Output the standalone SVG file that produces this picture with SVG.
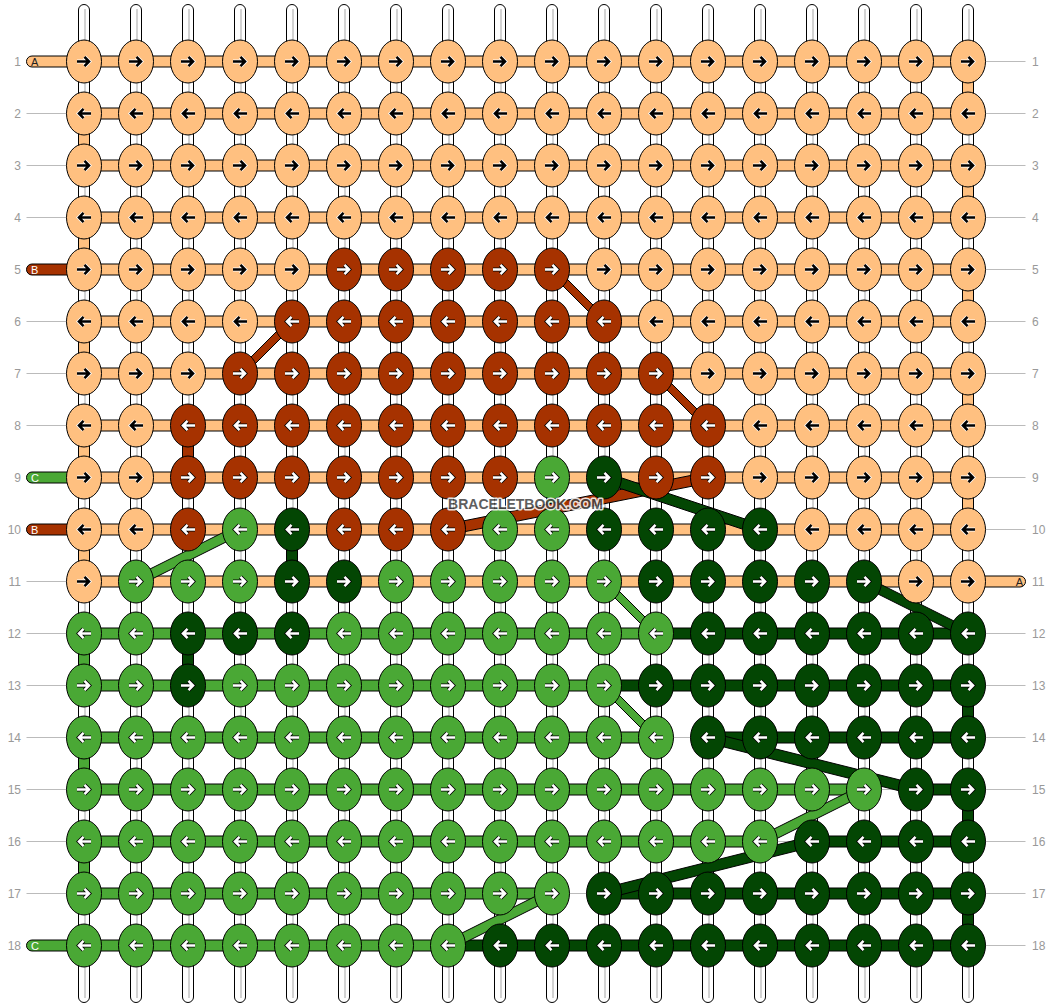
<svg xmlns="http://www.w3.org/2000/svg" xmlns:xlink="http://www.w3.org/1999/xlink" width="1052" height="1008" viewBox="0 0 1052 1008">
<style>
.p{fill:#ffc080}.b{fill:#a63200}.g{fill:#4aa835}.d{fill:#034603}
#connectors rect,#connectors polygon{stroke:#000;stroke-width:1}
.gl{stroke:#bbb;stroke-width:1}
#strings rect{fill:#fff;stroke:#000;stroke-width:1}
#strings line{stroke:#c4c4c4;stroke-width:1.5}
.lbl{font-family:"Liberation Sans",Arial,sans-serif;font-size:12px;fill:#999}
.pl{font-family:"Liberation Sans",Arial,sans-serif;font-size:11px}
</style>
<defs>
<ellipse id="E" rx="17.5" ry="21.5" stroke="#000" stroke-width="1"/>
<path id="R" d="M-7 0H4M0.5-4.6L5 0L0.5 4.6" fill="none"/>
<path id="L" d="M7 0H-4M-0.5-4.6L-5 0L-0.5 4.6" fill="none"/>
<g id="pR"><use href="#E" fill="#ffc080"/><use href="#R" stroke="#fff" stroke-width="4.2"/><use href="#R" stroke="#000" stroke-width="2.6"/></g>
<g id="pL"><use href="#E" fill="#ffc080"/><use href="#L" stroke="#fff" stroke-width="4.2"/><use href="#L" stroke="#000" stroke-width="2.6"/></g>
<g id="bR"><use href="#E" fill="#a63200"/><use href="#R" stroke="#000" stroke-width="4.2"/><use href="#R" stroke="#fff" stroke-width="2.6"/></g>
<g id="bL"><use href="#E" fill="#a63200"/><use href="#L" stroke="#000" stroke-width="4.2"/><use href="#L" stroke="#fff" stroke-width="2.6"/></g>
<g id="gR"><use href="#E" fill="#4aa835"/><use href="#R" stroke="#000" stroke-width="4.2"/><use href="#R" stroke="#fff" stroke-width="2.6"/></g>
<g id="gL"><use href="#E" fill="#4aa835"/><use href="#L" stroke="#000" stroke-width="4.2"/><use href="#L" stroke="#fff" stroke-width="2.6"/></g>
<g id="dR"><use href="#E" fill="#034603"/><use href="#R" stroke="#000" stroke-width="4.2"/><use href="#R" stroke="#fff" stroke-width="2.6"/></g>
<g id="dL"><use href="#E" fill="#034603"/><use href="#L" stroke="#000" stroke-width="4.2"/><use href="#L" stroke="#fff" stroke-width="2.6"/></g>
</defs>
<rect width="1052" height="1008" fill="#fff"/>
<g id="strings">
<rect x="78.5" y="4.5" width="11" height="998" rx="5.5"/><line x1="85" y1="9" x2="85" y2="998"/>
<rect x="130.5" y="4.5" width="11" height="998" rx="5.5"/><line x1="137" y1="9" x2="137" y2="998"/>
<rect x="182.5" y="4.5" width="11" height="998" rx="5.5"/><line x1="189" y1="9" x2="189" y2="998"/>
<rect x="234.5" y="4.5" width="11" height="998" rx="5.5"/><line x1="241" y1="9" x2="241" y2="998"/>
<rect x="286.5" y="4.5" width="11" height="998" rx="5.5"/><line x1="293" y1="9" x2="293" y2="998"/>
<rect x="338.5" y="4.5" width="11" height="998" rx="5.5"/><line x1="345" y1="9" x2="345" y2="998"/>
<rect x="390.5" y="4.5" width="11" height="998" rx="5.5"/><line x1="397" y1="9" x2="397" y2="998"/>
<rect x="442.5" y="4.5" width="11" height="998" rx="5.5"/><line x1="449" y1="9" x2="449" y2="998"/>
<rect x="494.5" y="4.5" width="11" height="998" rx="5.5"/><line x1="501" y1="9" x2="501" y2="998"/>
<rect x="546.5" y="4.5" width="11" height="998" rx="5.5"/><line x1="553" y1="9" x2="553" y2="998"/>
<rect x="598.5" y="4.5" width="11" height="998" rx="5.5"/><line x1="605" y1="9" x2="605" y2="998"/>
<rect x="650.5" y="4.5" width="11" height="998" rx="5.5"/><line x1="657" y1="9" x2="657" y2="998"/>
<rect x="702.5" y="4.5" width="11" height="998" rx="5.5"/><line x1="709" y1="9" x2="709" y2="998"/>
<rect x="754.5" y="4.5" width="11" height="998" rx="5.5"/><line x1="761" y1="9" x2="761" y2="998"/>
<rect x="806.5" y="4.5" width="11" height="998" rx="5.5"/><line x1="813" y1="9" x2="813" y2="998"/>
<rect x="858.5" y="4.5" width="11" height="998" rx="5.5"/><line x1="865" y1="9" x2="865" y2="998"/>
<rect x="910.5" y="4.5" width="11" height="998" rx="5.5"/><line x1="917" y1="9" x2="917" y2="998"/>
<rect x="962.5" y="4.5" width="11" height="998" rx="5.5"/><line x1="969" y1="9" x2="969" y2="998"/>
</g>
<g id="connectors">
<g id="edge-lines">
<line class="gl" x1="26.5" y1="113.5" x2="70" y2="113.5"/>
<line class="gl" x1="26.5" y1="165.5" x2="70" y2="165.5"/>
<line class="gl" x1="26.5" y1="217.5" x2="70" y2="217.5"/>
<line class="gl" x1="26.5" y1="321.5" x2="70" y2="321.5"/>
<line class="gl" x1="26.5" y1="373.5" x2="70" y2="373.5"/>
<line class="gl" x1="26.5" y1="425.5" x2="70" y2="425.5"/>
<line class="gl" x1="26.5" y1="581.5" x2="70" y2="581.5"/>
<line class="gl" x1="26.5" y1="633.5" x2="70" y2="633.5"/>
<line class="gl" x1="26.5" y1="685.5" x2="70" y2="685.5"/>
<line class="gl" x1="26.5" y1="737.5" x2="70" y2="737.5"/>
<line class="gl" x1="26.5" y1="789.5" x2="70" y2="789.5"/>
<line class="gl" x1="26.5" y1="841.5" x2="70" y2="841.5"/>
<line class="gl" x1="26.5" y1="893.5" x2="70" y2="893.5"/>
<line class="gl" x1="980" y1="61.5" x2="1025.5" y2="61.5"/>
<line class="gl" x1="980" y1="113.5" x2="1025.5" y2="113.5"/>
<line class="gl" x1="980" y1="165.5" x2="1025.5" y2="165.5"/>
<line class="gl" x1="980" y1="217.5" x2="1025.5" y2="217.5"/>
<line class="gl" x1="980" y1="269.5" x2="1025.5" y2="269.5"/>
<line class="gl" x1="980" y1="321.5" x2="1025.5" y2="321.5"/>
<line class="gl" x1="980" y1="373.5" x2="1025.5" y2="373.5"/>
<line class="gl" x1="980" y1="425.5" x2="1025.5" y2="425.5"/>
<line class="gl" x1="980" y1="477.5" x2="1025.5" y2="477.5"/>
<line class="gl" x1="980" y1="529.5" x2="1025.5" y2="529.5"/>
<line class="gl" x1="980" y1="633.5" x2="1025.5" y2="633.5"/>
<line class="gl" x1="980" y1="685.5" x2="1025.5" y2="685.5"/>
<line class="gl" x1="980" y1="737.5" x2="1025.5" y2="737.5"/>
<line class="gl" x1="980" y1="789.5" x2="1025.5" y2="789.5"/>
<line class="gl" x1="980" y1="841.5" x2="1025.5" y2="841.5"/>
<line class="gl" x1="980" y1="893.5" x2="1025.5" y2="893.5"/>
<line class="gl" x1="980" y1="945.5" x2="1025.5" y2="945.5"/>
<line class="gl" x1="656" y1="737.5" x2="708" y2="737.5"/>
<line class="gl" x1="864" y1="789.5" x2="916" y2="789.5"/>
<line class="gl" x1="760" y1="841.5" x2="812" y2="841.5"/>
<line class="gl" x1="552" y1="893.5" x2="604" y2="893.5"/>
</g>
<g id="pills">
<rect class="p" x="26.5" y="56" width="68" height="11" rx="5.5"/>
<rect class="b" x="26.5" y="264" width="68" height="11" rx="5.5"/>
<rect class="g" x="26.5" y="472" width="68" height="11" rx="5.5"/>
<rect class="b" x="26.5" y="524" width="68" height="11" rx="5.5"/>
<rect class="g" x="26.5" y="940" width="68" height="11" rx="5.5"/>
<rect class="p" x="957" y="576" width="68.5" height="11" rx="5.5"/>
</g>
<g id="bars">
<rect class="p" x="84" y="56" width="884" height="11"/>
<rect class="p" x="84" y="108" width="884" height="11"/>
<rect class="p" x="84" y="160" width="884" height="11"/>
<rect class="p" x="84" y="212" width="884" height="11"/>
<rect class="p" x="84" y="264" width="884" height="11"/>
<rect class="p" x="84" y="316" width="884" height="11"/>
<rect class="p" x="84" y="368" width="884" height="11"/>
<rect class="p" x="84" y="420" width="884" height="11"/>
<rect class="p" x="84" y="472" width="884" height="11"/>
<rect class="p" x="84" y="524" width="884" height="11"/>
<rect class="p" x="84" y="576" width="884" height="11"/>
<rect class="g" x="84" y="628" width="572" height="11"/>
<rect class="d" x="656" y="628" width="312" height="11"/>
<rect class="g" x="84" y="680" width="520" height="11"/>
<rect class="d" x="604" y="680" width="364" height="11"/>
<rect class="g" x="84" y="732" width="572" height="11"/>
<rect class="d" x="708" y="732" width="260" height="11"/>
<rect class="g" x="84" y="784" width="780" height="11"/>
<rect class="d" x="916" y="784" width="52" height="11"/>
<rect class="g" x="84" y="836" width="676" height="11"/>
<rect class="d" x="812" y="836" width="156" height="11"/>
<rect class="g" x="84" y="888" width="468" height="11"/>
<rect class="d" x="604" y="888" width="364" height="11"/>
<rect class="g" x="84" y="940" width="364" height="11"/>
<rect class="d" x="448" y="940" width="520" height="11"/>
</g>
<g id="verticals">
<rect class="p" x="78.5" y="113.5" width="11" height="52"/>
<rect class="p" x="78.5" y="217.5" width="11" height="52"/>
<rect class="p" x="78.5" y="321.5" width="11" height="52"/>
<rect class="p" x="78.5" y="425.5" width="11" height="52"/>
<rect class="p" x="78.5" y="529.5" width="11" height="52"/>
<rect class="p" x="962.5" y="61.5" width="11" height="52"/>
<rect class="p" x="962.5" y="165.5" width="11" height="52"/>
<rect class="p" x="962.5" y="269.5" width="11" height="52"/>
<rect class="p" x="962.5" y="373.5" width="11" height="52"/>
<rect class="p" x="962.5" y="477.5" width="11" height="52"/>
<rect class="b" x="182.5" y="425.5" width="11" height="52"/>
<rect class="g" x="546.5" y="477.5" width="11" height="52"/>
<rect class="g" x="78.5" y="633.5" width="11" height="52"/>
<rect class="g" x="78.5" y="737.5" width="11" height="52"/>
<rect class="g" x="78.5" y="841.5" width="11" height="52"/>
<rect class="d" x="286.5" y="529.5" width="11" height="52"/>
<rect class="d" x="182.5" y="633.5" width="11" height="52"/>
<rect class="d" x="962.5" y="685.5" width="11" height="52"/>
<rect class="d" x="962.5" y="789.5" width="11" height="52"/>
<rect class="d" x="962.5" y="893.5" width="11" height="52"/>
</g>
<g id="diagonals">
<polygon class="b" points="552,264 604,316 604,327 552,275"/>
<polygon class="b" points="292,316 240,368 240,379 292,327"/>
<polygon class="b" points="656,368 708,420 708,431 656,379"/>
<polygon class="b" points="708,472 448,524 448,535 708,483"/>
<polygon class="d" points="604,472 760,524 760,535 604,483"/>
<polygon class="g" points="240,524 136,576 136,587 240,535"/>
<polygon class="g" points="604,576 656,628 656,639 604,587"/>
<polygon class="d" points="864,576 968,628 968,639 864,587"/>
<polygon class="g" points="604,680 656,732 656,743 604,691"/>
<polygon class="d" points="708,732 916,784 916,795 708,743"/>
<polygon class="g" points="864,784 760,836 760,847 864,795"/>
<polygon class="d" points="812,836 604,888 604,899 812,847"/>
<polygon class="g" points="552,888 448,940 448,951 552,899"/>
</g>
</g>
<g id="pill-labels" class="pl">
<text x="31" y="66" fill="#222">A</text>
<text x="31" y="274" fill="#fff">B</text>
<text x="31" y="482" fill="#fff">C</text>
<text x="31" y="534" fill="#fff">B</text>
<text x="31" y="950" fill="#fff">C</text>
<text x="1023" y="586" fill="#222" text-anchor="end">A</text>
</g>
<g id="knots">
<g transform="translate(0 61.5)">
<g id="k1-1"><use href="#pR" x="84"/></g><g id="k1-2"><use href="#pR" x="136"/></g><g id="k1-3"><use href="#pR" x="188"/></g><g id="k1-4"><use href="#pR" x="240"/></g><g id="k1-5"><use href="#pR" x="292"/></g><g id="k1-6"><use href="#pR" x="344"/></g><g id="k1-7"><use href="#pR" x="396"/></g><g id="k1-8"><use href="#pR" x="448"/></g><g id="k1-9"><use href="#pR" x="500"/></g><g id="k1-10"><use href="#pR" x="552"/></g><g id="k1-11"><use href="#pR" x="604"/></g><g id="k1-12"><use href="#pR" x="656"/></g><g id="k1-13"><use href="#pR" x="708"/></g><g id="k1-14"><use href="#pR" x="760"/></g><g id="k1-15"><use href="#pR" x="812"/></g><g id="k1-16"><use href="#pR" x="864"/></g><g id="k1-17"><use href="#pR" x="916"/></g><g id="k1-18"><use href="#pR" x="968"/></g>
</g>
<g transform="translate(0 113.5)">
<g id="k2-1"><use href="#pL" x="84"/></g><g id="k2-2"><use href="#pL" x="136"/></g><g id="k2-3"><use href="#pL" x="188"/></g><g id="k2-4"><use href="#pL" x="240"/></g><g id="k2-5"><use href="#pL" x="292"/></g><g id="k2-6"><use href="#pL" x="344"/></g><g id="k2-7"><use href="#pL" x="396"/></g><g id="k2-8"><use href="#pL" x="448"/></g><g id="k2-9"><use href="#pL" x="500"/></g><g id="k2-10"><use href="#pL" x="552"/></g><g id="k2-11"><use href="#pL" x="604"/></g><g id="k2-12"><use href="#pL" x="656"/></g><g id="k2-13"><use href="#pL" x="708"/></g><g id="k2-14"><use href="#pL" x="760"/></g><g id="k2-15"><use href="#pL" x="812"/></g><g id="k2-16"><use href="#pL" x="864"/></g><g id="k2-17"><use href="#pL" x="916"/></g><g id="k2-18"><use href="#pL" x="968"/></g>
</g>
<g transform="translate(0 165.5)">
<g id="k3-1"><use href="#pR" x="84"/></g><g id="k3-2"><use href="#pR" x="136"/></g><g id="k3-3"><use href="#pR" x="188"/></g><g id="k3-4"><use href="#pR" x="240"/></g><g id="k3-5"><use href="#pR" x="292"/></g><g id="k3-6"><use href="#pR" x="344"/></g><g id="k3-7"><use href="#pR" x="396"/></g><g id="k3-8"><use href="#pR" x="448"/></g><g id="k3-9"><use href="#pR" x="500"/></g><g id="k3-10"><use href="#pR" x="552"/></g><g id="k3-11"><use href="#pR" x="604"/></g><g id="k3-12"><use href="#pR" x="656"/></g><g id="k3-13"><use href="#pR" x="708"/></g><g id="k3-14"><use href="#pR" x="760"/></g><g id="k3-15"><use href="#pR" x="812"/></g><g id="k3-16"><use href="#pR" x="864"/></g><g id="k3-17"><use href="#pR" x="916"/></g><g id="k3-18"><use href="#pR" x="968"/></g>
</g>
<g transform="translate(0 217.5)">
<g id="k4-1"><use href="#pL" x="84"/></g><g id="k4-2"><use href="#pL" x="136"/></g><g id="k4-3"><use href="#pL" x="188"/></g><g id="k4-4"><use href="#pL" x="240"/></g><g id="k4-5"><use href="#pL" x="292"/></g><g id="k4-6"><use href="#pL" x="344"/></g><g id="k4-7"><use href="#pL" x="396"/></g><g id="k4-8"><use href="#pL" x="448"/></g><g id="k4-9"><use href="#pL" x="500"/></g><g id="k4-10"><use href="#pL" x="552"/></g><g id="k4-11"><use href="#pL" x="604"/></g><g id="k4-12"><use href="#pL" x="656"/></g><g id="k4-13"><use href="#pL" x="708"/></g><g id="k4-14"><use href="#pL" x="760"/></g><g id="k4-15"><use href="#pL" x="812"/></g><g id="k4-16"><use href="#pL" x="864"/></g><g id="k4-17"><use href="#pL" x="916"/></g><g id="k4-18"><use href="#pL" x="968"/></g>
</g>
<g transform="translate(0 269.5)">
<g id="k5-1"><use href="#pR" x="84"/></g><g id="k5-2"><use href="#pR" x="136"/></g><g id="k5-3"><use href="#pR" x="188"/></g><g id="k5-4"><use href="#pR" x="240"/></g><g id="k5-5"><use href="#pR" x="292"/></g><g id="k5-6"><use href="#bR" x="344"/></g><g id="k5-7"><use href="#bR" x="396"/></g><g id="k5-8"><use href="#bR" x="448"/></g><g id="k5-9"><use href="#bR" x="500"/></g><g id="k5-10"><use href="#bR" x="552"/></g><g id="k5-11"><use href="#pR" x="604"/></g><g id="k5-12"><use href="#pR" x="656"/></g><g id="k5-13"><use href="#pR" x="708"/></g><g id="k5-14"><use href="#pR" x="760"/></g><g id="k5-15"><use href="#pR" x="812"/></g><g id="k5-16"><use href="#pR" x="864"/></g><g id="k5-17"><use href="#pR" x="916"/></g><g id="k5-18"><use href="#pR" x="968"/></g>
</g>
<g transform="translate(0 321.5)">
<g id="k6-1"><use href="#pL" x="84"/></g><g id="k6-2"><use href="#pL" x="136"/></g><g id="k6-3"><use href="#pL" x="188"/></g><g id="k6-4"><use href="#pL" x="240"/></g><g id="k6-5"><use href="#bL" x="292"/></g><g id="k6-6"><use href="#bL" x="344"/></g><g id="k6-7"><use href="#bL" x="396"/></g><g id="k6-8"><use href="#bL" x="448"/></g><g id="k6-9"><use href="#bL" x="500"/></g><g id="k6-10"><use href="#bL" x="552"/></g><g id="k6-11"><use href="#bL" x="604"/></g><g id="k6-12"><use href="#pL" x="656"/></g><g id="k6-13"><use href="#pL" x="708"/></g><g id="k6-14"><use href="#pL" x="760"/></g><g id="k6-15"><use href="#pL" x="812"/></g><g id="k6-16"><use href="#pL" x="864"/></g><g id="k6-17"><use href="#pL" x="916"/></g><g id="k6-18"><use href="#pL" x="968"/></g>
</g>
<g transform="translate(0 373.5)">
<g id="k7-1"><use href="#pR" x="84"/></g><g id="k7-2"><use href="#pR" x="136"/></g><g id="k7-3"><use href="#pR" x="188"/></g><g id="k7-4"><use href="#bR" x="240"/></g><g id="k7-5"><use href="#bR" x="292"/></g><g id="k7-6"><use href="#bR" x="344"/></g><g id="k7-7"><use href="#bR" x="396"/></g><g id="k7-8"><use href="#bR" x="448"/></g><g id="k7-9"><use href="#bR" x="500"/></g><g id="k7-10"><use href="#bR" x="552"/></g><g id="k7-11"><use href="#bR" x="604"/></g><g id="k7-12"><use href="#bR" x="656"/></g><g id="k7-13"><use href="#pR" x="708"/></g><g id="k7-14"><use href="#pR" x="760"/></g><g id="k7-15"><use href="#pR" x="812"/></g><g id="k7-16"><use href="#pR" x="864"/></g><g id="k7-17"><use href="#pR" x="916"/></g><g id="k7-18"><use href="#pR" x="968"/></g>
</g>
<g transform="translate(0 425.5)">
<g id="k8-1"><use href="#pL" x="84"/></g><g id="k8-2"><use href="#pL" x="136"/></g><g id="k8-3"><use href="#bL" x="188"/></g><g id="k8-4"><use href="#bL" x="240"/></g><g id="k8-5"><use href="#bL" x="292"/></g><g id="k8-6"><use href="#bL" x="344"/></g><g id="k8-7"><use href="#bL" x="396"/></g><g id="k8-8"><use href="#bL" x="448"/></g><g id="k8-9"><use href="#bL" x="500"/></g><g id="k8-10"><use href="#bL" x="552"/></g><g id="k8-11"><use href="#bL" x="604"/></g><g id="k8-12"><use href="#bL" x="656"/></g><g id="k8-13"><use href="#bL" x="708"/></g><g id="k8-14"><use href="#pL" x="760"/></g><g id="k8-15"><use href="#pL" x="812"/></g><g id="k8-16"><use href="#pL" x="864"/></g><g id="k8-17"><use href="#pL" x="916"/></g><g id="k8-18"><use href="#pL" x="968"/></g>
</g>
<g transform="translate(0 477.5)">
<g id="k9-1"><use href="#pR" x="84"/></g><g id="k9-2"><use href="#pR" x="136"/></g><g id="k9-3"><use href="#bR" x="188"/></g><g id="k9-4"><use href="#bR" x="240"/></g><g id="k9-5"><use href="#bR" x="292"/></g><g id="k9-6"><use href="#bR" x="344"/></g><g id="k9-7"><use href="#bR" x="396"/></g><g id="k9-8"><use href="#bR" x="448"/></g><g id="k9-9"><use href="#bR" x="500"/></g><g id="k9-10"><use href="#gR" x="552"/></g><g id="k9-11"><use href="#dR" x="604"/></g><g id="k9-12"><use href="#bR" x="656"/></g><g id="k9-13"><use href="#bR" x="708"/></g><g id="k9-14"><use href="#pR" x="760"/></g><g id="k9-15"><use href="#pR" x="812"/></g><g id="k9-16"><use href="#pR" x="864"/></g><g id="k9-17"><use href="#pR" x="916"/></g><g id="k9-18"><use href="#pR" x="968"/></g>
</g>
<g transform="translate(0 529.5)">
<g id="k10-1"><use href="#pL" x="84"/></g><g id="k10-2"><use href="#pL" x="136"/></g><g id="k10-3"><use href="#bL" x="188"/></g><g id="k10-4"><use href="#gL" x="240"/></g><g id="k10-5"><use href="#dL" x="292"/></g><g id="k10-6"><use href="#bL" x="344"/></g><g id="k10-7"><use href="#bL" x="396"/></g><g id="k10-8"><use href="#bL" x="448"/></g><g id="k10-9"><use href="#gL" x="500"/></g><g id="k10-10"><use href="#gL" x="552"/></g><g id="k10-11"><use href="#dL" x="604"/></g><g id="k10-12"><use href="#dL" x="656"/></g><g id="k10-13"><use href="#dL" x="708"/></g><g id="k10-14"><use href="#dL" x="760"/></g><g id="k10-15"><use href="#pL" x="812"/></g><g id="k10-16"><use href="#pL" x="864"/></g><g id="k10-17"><use href="#pL" x="916"/></g><g id="k10-18"><use href="#pL" x="968"/></g>
</g>
<g transform="translate(0 581.5)">
<g id="k11-1"><use href="#pR" x="84"/></g><g id="k11-2"><use href="#gR" x="136"/></g><g id="k11-3"><use href="#gR" x="188"/></g><g id="k11-4"><use href="#gR" x="240"/></g><g id="k11-5"><use href="#dR" x="292"/></g><g id="k11-6"><use href="#dR" x="344"/></g><g id="k11-7"><use href="#gR" x="396"/></g><g id="k11-8"><use href="#gR" x="448"/></g><g id="k11-9"><use href="#gR" x="500"/></g><g id="k11-10"><use href="#gR" x="552"/></g><g id="k11-11"><use href="#gR" x="604"/></g><g id="k11-12"><use href="#dR" x="656"/></g><g id="k11-13"><use href="#dR" x="708"/></g><g id="k11-14"><use href="#dR" x="760"/></g><g id="k11-15"><use href="#dR" x="812"/></g><g id="k11-16"><use href="#dR" x="864"/></g><g id="k11-17"><use href="#pR" x="916"/></g><g id="k11-18"><use href="#pR" x="968"/></g>
</g>
<g transform="translate(0 633.5)">
<g id="k12-1"><use href="#gL" x="84"/></g><g id="k12-2"><use href="#gL" x="136"/></g><g id="k12-3"><use href="#dL" x="188"/></g><g id="k12-4"><use href="#dL" x="240"/></g><g id="k12-5"><use href="#dL" x="292"/></g><g id="k12-6"><use href="#gL" x="344"/></g><g id="k12-7"><use href="#gL" x="396"/></g><g id="k12-8"><use href="#gL" x="448"/></g><g id="k12-9"><use href="#gL" x="500"/></g><g id="k12-10"><use href="#gL" x="552"/></g><g id="k12-11"><use href="#gL" x="604"/></g><g id="k12-12"><use href="#gL" x="656"/></g><g id="k12-13"><use href="#dL" x="708"/></g><g id="k12-14"><use href="#dL" x="760"/></g><g id="k12-15"><use href="#dL" x="812"/></g><g id="k12-16"><use href="#dL" x="864"/></g><g id="k12-17"><use href="#dL" x="916"/></g><g id="k12-18"><use href="#dL" x="968"/></g>
</g>
<g transform="translate(0 685.5)">
<g id="k13-1"><use href="#gR" x="84"/></g><g id="k13-2"><use href="#gR" x="136"/></g><g id="k13-3"><use href="#dR" x="188"/></g><g id="k13-4"><use href="#gR" x="240"/></g><g id="k13-5"><use href="#gR" x="292"/></g><g id="k13-6"><use href="#gR" x="344"/></g><g id="k13-7"><use href="#gR" x="396"/></g><g id="k13-8"><use href="#gR" x="448"/></g><g id="k13-9"><use href="#gR" x="500"/></g><g id="k13-10"><use href="#gR" x="552"/></g><g id="k13-11"><use href="#gR" x="604"/></g><g id="k13-12"><use href="#dR" x="656"/></g><g id="k13-13"><use href="#dR" x="708"/></g><g id="k13-14"><use href="#dR" x="760"/></g><g id="k13-15"><use href="#dR" x="812"/></g><g id="k13-16"><use href="#dR" x="864"/></g><g id="k13-17"><use href="#dR" x="916"/></g><g id="k13-18"><use href="#dR" x="968"/></g>
</g>
<g transform="translate(0 737.5)">
<g id="k14-1"><use href="#gL" x="84"/></g><g id="k14-2"><use href="#gL" x="136"/></g><g id="k14-3"><use href="#gL" x="188"/></g><g id="k14-4"><use href="#gL" x="240"/></g><g id="k14-5"><use href="#gL" x="292"/></g><g id="k14-6"><use href="#gL" x="344"/></g><g id="k14-7"><use href="#gL" x="396"/></g><g id="k14-8"><use href="#gL" x="448"/></g><g id="k14-9"><use href="#gL" x="500"/></g><g id="k14-10"><use href="#gL" x="552"/></g><g id="k14-11"><use href="#gL" x="604"/></g><g id="k14-12"><use href="#gL" x="656"/></g><g id="k14-13"><use href="#dL" x="708"/></g><g id="k14-14"><use href="#dL" x="760"/></g><g id="k14-15"><use href="#dL" x="812"/></g><g id="k14-16"><use href="#dL" x="864"/></g><g id="k14-17"><use href="#dL" x="916"/></g><g id="k14-18"><use href="#dL" x="968"/></g>
</g>
<g transform="translate(0 789.5)">
<g id="k15-1"><use href="#gR" x="84"/></g><g id="k15-2"><use href="#gR" x="136"/></g><g id="k15-3"><use href="#gR" x="188"/></g><g id="k15-4"><use href="#gR" x="240"/></g><g id="k15-5"><use href="#gR" x="292"/></g><g id="k15-6"><use href="#gR" x="344"/></g><g id="k15-7"><use href="#gR" x="396"/></g><g id="k15-8"><use href="#gR" x="448"/></g><g id="k15-9"><use href="#gR" x="500"/></g><g id="k15-10"><use href="#gR" x="552"/></g><g id="k15-11"><use href="#gR" x="604"/></g><g id="k15-12"><use href="#gR" x="656"/></g><g id="k15-13"><use href="#gR" x="708"/></g><g id="k15-14"><use href="#gR" x="760"/></g><g id="k15-15"><use href="#gR" x="812"/></g><g id="k15-16"><use href="#gR" x="864"/></g><g id="k15-17"><use href="#dR" x="916"/></g><g id="k15-18"><use href="#dR" x="968"/></g>
</g>
<g transform="translate(0 841.5)">
<g id="k16-1"><use href="#gL" x="84"/></g><g id="k16-2"><use href="#gL" x="136"/></g><g id="k16-3"><use href="#gL" x="188"/></g><g id="k16-4"><use href="#gL" x="240"/></g><g id="k16-5"><use href="#gL" x="292"/></g><g id="k16-6"><use href="#gL" x="344"/></g><g id="k16-7"><use href="#gL" x="396"/></g><g id="k16-8"><use href="#gL" x="448"/></g><g id="k16-9"><use href="#gL" x="500"/></g><g id="k16-10"><use href="#gL" x="552"/></g><g id="k16-11"><use href="#gL" x="604"/></g><g id="k16-12"><use href="#gL" x="656"/></g><g id="k16-13"><use href="#gL" x="708"/></g><g id="k16-14"><use href="#gL" x="760"/></g><g id="k16-15"><use href="#dL" x="812"/></g><g id="k16-16"><use href="#dL" x="864"/></g><g id="k16-17"><use href="#dL" x="916"/></g><g id="k16-18"><use href="#dL" x="968"/></g>
</g>
<g transform="translate(0 893.5)">
<g id="k17-1"><use href="#gR" x="84"/></g><g id="k17-2"><use href="#gR" x="136"/></g><g id="k17-3"><use href="#gR" x="188"/></g><g id="k17-4"><use href="#gR" x="240"/></g><g id="k17-5"><use href="#gR" x="292"/></g><g id="k17-6"><use href="#gR" x="344"/></g><g id="k17-7"><use href="#gR" x="396"/></g><g id="k17-8"><use href="#gR" x="448"/></g><g id="k17-9"><use href="#gR" x="500"/></g><g id="k17-10"><use href="#gR" x="552"/></g><g id="k17-11"><use href="#dR" x="604"/></g><g id="k17-12"><use href="#dR" x="656"/></g><g id="k17-13"><use href="#dR" x="708"/></g><g id="k17-14"><use href="#dR" x="760"/></g><g id="k17-15"><use href="#dR" x="812"/></g><g id="k17-16"><use href="#dR" x="864"/></g><g id="k17-17"><use href="#dR" x="916"/></g><g id="k17-18"><use href="#dR" x="968"/></g>
</g>
<g transform="translate(0 945.5)">
<g id="k18-1"><use href="#gL" x="84"/></g><g id="k18-2"><use href="#gL" x="136"/></g><g id="k18-3"><use href="#gL" x="188"/></g><g id="k18-4"><use href="#gL" x="240"/></g><g id="k18-5"><use href="#gL" x="292"/></g><g id="k18-6"><use href="#gL" x="344"/></g><g id="k18-7"><use href="#gL" x="396"/></g><g id="k18-8"><use href="#gL" x="448"/></g><g id="k18-9"><use href="#dL" x="500"/></g><g id="k18-10"><use href="#dL" x="552"/></g><g id="k18-11"><use href="#dL" x="604"/></g><g id="k18-12"><use href="#dL" x="656"/></g><g id="k18-13"><use href="#dL" x="708"/></g><g id="k18-14"><use href="#dL" x="760"/></g><g id="k18-15"><use href="#dL" x="812"/></g><g id="k18-16"><use href="#dL" x="864"/></g><g id="k18-17"><use href="#dL" x="916"/></g><g id="k18-18"><use href="#dL" x="968"/></g>
</g>
</g>
<g id="row-labels" class="lbl">
<g text-anchor="end">
<text x="21" y="65.5">1</text><text x="21" y="117.5">2</text><text x="21" y="169.5">3</text><text x="21" y="221.5">4</text><text x="21" y="273.5">5</text><text x="21" y="325.5">6</text><text x="21" y="377.5">7</text><text x="21" y="429.5">8</text><text x="21" y="481.5">9</text><text x="21" y="533.5">10</text><text x="21" y="585.5">11</text><text x="21" y="637.5">12</text><text x="21" y="689.5">13</text><text x="21" y="741.5">14</text><text x="21" y="793.5">15</text><text x="21" y="845.5">16</text><text x="21" y="897.5">17</text><text x="21" y="949.5">18</text>
</g>
<g>
<text x="1032" y="65.5">1</text><text x="1032" y="117.5">2</text><text x="1032" y="169.5">3</text><text x="1032" y="221.5">4</text><text x="1032" y="273.5">5</text><text x="1032" y="325.5">6</text><text x="1032" y="377.5">7</text><text x="1032" y="429.5">8</text><text x="1032" y="481.5">9</text><text x="1032" y="533.5">10</text><text x="1032" y="585.5">11</text><text x="1032" y="637.5">12</text><text x="1032" y="689.5">13</text><text x="1032" y="741.5">14</text><text x="1032" y="793.5">15</text><text x="1032" y="845.5">16</text><text x="1032" y="897.5">17</text><text x="1032" y="949.5">18</text>
</g>
</g>
<text id="watermark" x="525.5" y="509" font-family="'Liberation Sans',Arial,sans-serif" font-weight="bold" font-size="14" text-anchor="middle" fill="#444" stroke="#fff" stroke-width="3" stroke-linejoin="round" paint-order="stroke" opacity="0.85">BRACELETBOOK.COM</text>
</svg>
